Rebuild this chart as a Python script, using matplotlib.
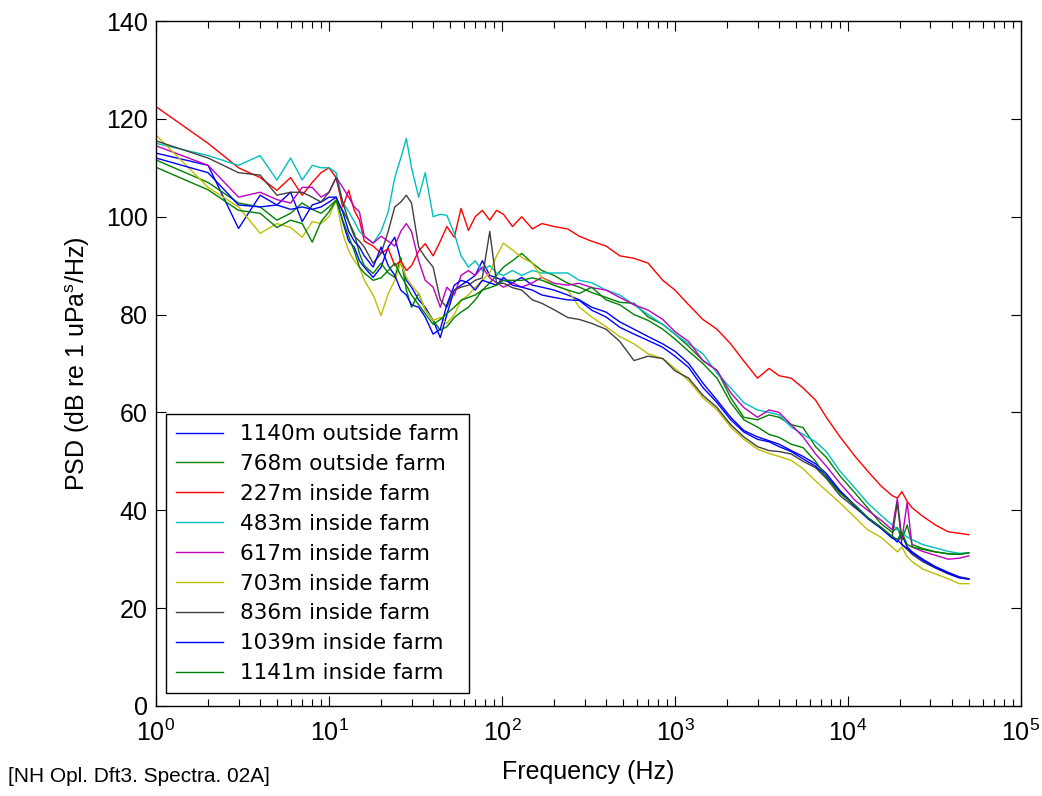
import matplotlib
matplotlib.use('Agg')
import matplotlib.pyplot as plt

# frequency grid (Hz) shared by all spectra
freq = [1, 2, 3, 4, 5, 6, 7, 8, 9, 10, 11, 12, 13, 14, 15, 16,
        18, 20, 22, 24, 26, 28, 30,
        33, 36, 40, 44, 48, 53, 58, 64, 70, 77, 85, 93, 102,
        115, 130, 150, 170, 200, 240, 280, 330, 400, 480, 580, 700, 850, 1000,
        1200, 1450, 1750, 2100, 2500, 3000, 3500, 4000, 4700, 5500, 6500, 7500, 9000,
        11000, 13000, 15500, 18000, 19300, 20500, 22000, 23500, 27000, 32000, 38000, 44000, 50000]

psd_1140_out = [113, 110.5, 97.6, 104.4, 102.4, 105, 99, 102.4, 103, 104, 104, 99, 95, 93.8, 91, 89.7,
                87.6, 89.7, 93.8, 95.8, 91, 87, 85.6,
                83, 81.5, 78.8, 75.3, 80, 85, 86, 87, 88, 91, 88, 87.5, 87,
                86.5, 87.6, 86, 85.6, 85, 84, 83, 81.5, 80.5, 78.5, 77, 75.5, 74, 72.5,
                70, 66, 62.5, 59, 56.3, 55, 54.2, 53.5, 52.2, 51, 49.5, 47.5, 44,
                41, 38.5, 36.5, 34.5, 33.5, 35, 32.5, 31.5, 30, 28.5, 27.3, 26.4, 26]

psd_768_out = [111.6, 107, 102.8, 102, 99.3, 100.7, 102.8, 101.5, 100.7, 102, 103.4, 101.3, 99, 96.6, 92.5, 90,
               88.4, 90.5, 88.5, 87.6, 91.7, 85, 81.5,
               84.3, 81, 78.8, 76.8, 77.5, 79.4, 80.5, 81.5, 83, 85, 86.5, 88, 89.7,
               91, 92.5, 90.5, 89, 88, 86.4, 85.6, 84.5, 83.5, 82.5, 82.3, 79.5, 78, 76,
               73.5, 70.6, 68.6, 63, 59, 58.5, 59.5, 59, 57.5, 56.9, 53, 50.8, 47,
               43.5, 40.5, 37.3, 35.5, 36.5, 34, 37, 33, 32.2, 31.5, 31.1, 31, 31.3]

psd_227_in = [122.5, 115, 110, 108, 105.4, 108, 104.4, 107, 109, 110, 108, 102, 105.4, 101.3, 99.3, 95,
              94, 92.5, 93.5, 90, 91, 89, 90,
              93, 94.5, 92, 95, 98, 95.8, 101.7, 97.2, 100, 101.3, 99.3, 101.3, 100.5,
              98, 100, 97.5, 98.6, 98, 97.5, 96, 95, 94, 92, 91.5, 90.5, 87, 85,
              82, 79, 77, 74, 70.5, 67, 69, 67.5, 67, 65, 62.5, 59, 55,
              51, 48, 45, 43, 42.5, 43.8, 41.8, 40.5, 38.8, 37, 35.6, 35.3, 35]

psd_483_in = [115, 112.5, 110.5, 112.5, 107.5, 112, 107.5, 110.5, 110, 110, 109, 103, 101, 99, 97, 96,
              94.6, 97, 101, 108, 112, 116, 110,
              104, 109, 100, 100.5, 100.3, 96.6, 92, 89.7, 91, 89, 90, 88.5, 88,
              89, 88, 89, 88.5, 88.5, 88.5, 87, 86.5, 85, 84, 82, 80, 78, 76,
              74, 72, 68, 65, 62, 60.5, 60, 59.5, 57, 55.5, 54, 52, 48,
              44.5, 41.5, 39, 37, 36, 35.5, 34.5, 34, 33, 32.3, 31.6, 31.2, 31.3]

psd_617_in = [114.5, 110.5, 104, 105, 103.5, 102.8, 106, 106, 104, 105, 108, 106, 104, 102, 101, 96,
              94.6, 96, 95, 94, 97, 98.6, 97,
              91, 87, 85.6, 81.5, 85.6, 84, 88, 89, 88, 89.7, 87.5, 86.5, 85.6,
              86.5, 85.6, 86.5, 87.6, 86.4, 86, 86.4, 85.5, 85, 83.5, 82, 80.9, 79, 76.5,
              74.5, 70.6, 68.6, 64, 61, 59, 60.5, 60, 57.5, 55, 51.5, 49, 45.5,
              42, 40, 38, 36, 42.4, 34, 41.6, 32.5, 31.6, 30.8, 30, 30.2, 30.7]

psd_703_in = [116.7, 106, 102, 96.6, 98.6, 97.8, 95.8, 99, 98.6, 100, 103.4, 96.6, 93, 91, 89.7, 87,
              84, 79.8, 84.3, 87, 90.5, 87.6, 86,
              84.3, 81, 78.8, 79.4, 78.2, 80, 82.9, 84, 85.6, 87, 88.5, 92, 94.6,
              93.2, 91.7, 90.5, 87.6, 86, 85, 81.5, 79.5, 77.5, 75.5, 74, 72, 71, 69,
              66.5, 63, 60.5, 57, 54.5, 52.5, 51.6, 51, 50.2, 48.5, 46, 44, 41.5,
              38.5, 36, 34.5, 32.5, 31.5, 32.5, 30.5, 29.5, 28, 27, 26, 25, 25]

psd_836_in = [115.5, 112, 109, 108.5, 104.4, 105, 105, 104, 103, 105, 108, 103, 99, 96, 95, 93.8,
              90.5, 92.5, 97, 102, 103, 104.4, 102.8,
              93.8, 91.7, 89.7, 83, 81.5, 85, 85.6, 86, 87, 87.5, 97, 86.4, 86.4,
              85.5, 85, 83, 82.3, 81, 79.4, 79, 78.2, 77, 74.5, 70.6, 71.5, 71, 68.5,
              67, 63.5, 61, 57.5, 55, 53, 52.2, 52, 51.5, 50, 48.7, 46.5, 43,
              40.5, 38.5, 36.5, 34.5, 41.6, 33, 32, 31, 29.5, 28.2, 27, 26.2, 26]

psd_1039_in = [112, 109, 102.4, 102, 102.4, 101.5, 102, 101.5, 102, 103, 104, 101, 97, 95, 93.8, 92,
               89.7, 93.8, 90, 88, 85, 84, 82,
               81.5, 79.5, 76, 77, 82, 86, 87, 86.5, 85, 87, 86.5, 86, 87.6,
               86, 85.6, 85, 84, 83.5, 83, 82.9, 80.9, 79.5, 77.4, 76, 74.7, 73.3, 71.5,
               69.2, 65.1, 62, 58.5, 56, 54.5, 54, 53, 52, 50.5, 49, 47, 43.7,
               40.8, 38.3, 36.3, 34.3, 34, 33, 32.2, 31.3, 29.8, 28.3, 27.1, 26.2, 25.9]

psd_1141_in = [110.1, 105.5, 101.3, 100.7, 97.8, 99.3, 98.6, 94.8, 99, 101, 103.4, 99.3, 96, 93, 89.7, 88.5,
               87, 87.5, 89, 90.5, 88, 86, 84,
               82, 80.2, 78, 79, 80.2, 81.5, 82.9, 83.5, 84, 85, 85.5, 86, 87,
               87, 87, 87.5, 87, 86, 85, 84.3, 85.6, 83, 82, 80, 78.8, 77, 75,
               72.5, 70, 67, 62, 58.5, 57, 55.5, 54.9, 53.5, 52.8, 50, 46.7, 43.5,
               41, 38.5, 36.5, 34.7, 34, 35.5, 33, 32.5, 32, 31.5, 31.1, 31, 31.3]

labels = ['1140m outside farm', '768m outside farm', '227m inside farm', '483m inside farm',
          '617m inside farm', '703m inside farm', '836m inside farm', '1039m inside farm',
          '1141m inside farm']
series = [psd_1140_out, psd_768_out, psd_227_in, psd_483_in, psd_617_in,
          psd_703_in, psd_836_in, psd_1039_in, psd_1141_in]
# old matlab colour order, cycles back to blue/green
colors = [(0, 0, 1), (0, 0.5, 0), (1, 0, 0), (0, 0.75, 0.75), (0.75, 0, 0.75),
          (0.75, 0.75, 0), (0.25, 0.25, 0.25), (0, 0, 1), (0, 0.5, 0)]

plt.rcParams['font.family'] = ['Liberation Sans', 'DejaVu Sans']

fig = plt.figure(figsize=(10.42, 7.96), dpi=100)
ax = fig.add_axes([0.1497, 0.1131, 0.8301, 0.8605])

for vals, lab, col in zip(series, labels, colors):
    ax.semilogx(freq, vals, color=col, lw=1.0, label=lab)

ax.set_xlim(1, 1e5)
ax.set_ylim(0, 140)
ax.set_yticks(range(0, 141, 20))
ax.tick_params(which='both', direction='in', top=True, right=True, labelsize=18, width=0.8)
ax.tick_params(which='major', length=7)
ax.tick_params(which='minor', length=5)
ax.tick_params(axis='y', pad=6)
ax.tick_params(axis='x', pad=10)
for sp in ax.spines.values():
    sp.set_linewidth(1.0)

ax.set_xlabel('Frequency (Hz)', fontsize=18, labelpad=10)
ax.set_ylabel(r'PSD (dB re 1 uPa$^\mathregular{s}$/Hz)', fontsize=18, labelpad=10)

leg = ax.legend(loc='lower left', bbox_to_anchor=(0.0116, 0.019), borderaxespad=0,
                prop={'family': 'DejaVu Sans', 'size': 15.5}, fancybox=False, framealpha=1,
                edgecolor='black', handlelength=2.2, handletextpad=0.8, labelspacing=0.46,
                borderpad=0.45)
leg.get_frame().set_linewidth(1.0)

fig.text(0.008, 0.024, '[NH Opl. Dft3. Spectra. 02A]', fontsize=15, va='center')

fig.savefig('out.png', dpi=100)
plt.close(fig)
